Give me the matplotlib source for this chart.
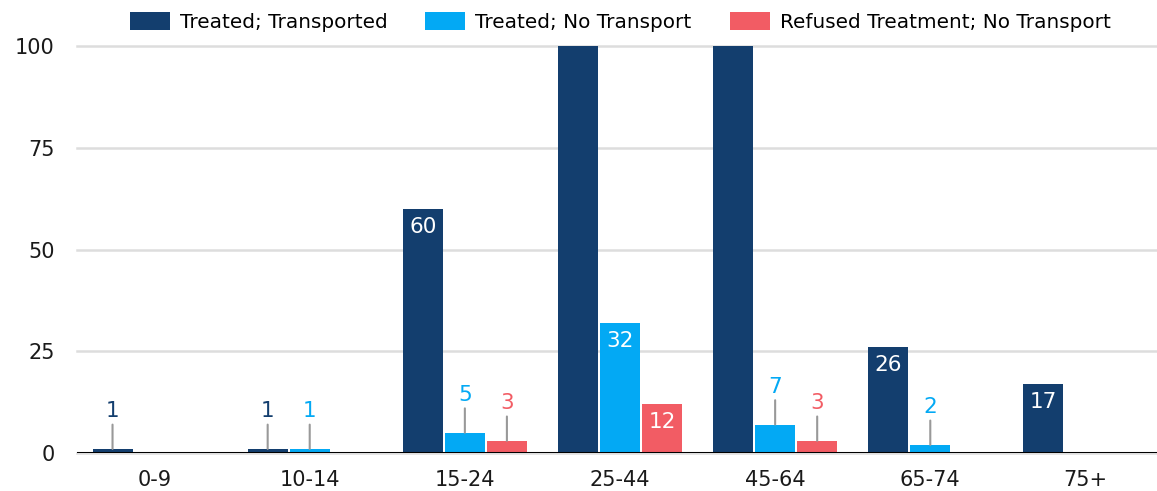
import numpy as np
import matplotlib
matplotlib.use("Agg")
import matplotlib.pyplot as plt

plt.rcParams['font.family'] = ['DejaVu Sans']

age_groups = ["0-9", "10-14", "15-24", "25-44", "45-64", "65-74", "75+"]
series_names = ["Treated; Transported", "Treated; No Transport", "Refused Treatment; No Transport"]
# the two tallest bars run past the top of the axis in the reference, true height unknown
treated_transported = [1, 1, 60, 140, 125, 26, 17]
treated_no_transport = [0, 1, 5, 32, 7, 2, 0]
refused_no_transport = [0, 0, 3, 12, 3, 0, 0]
colors = ["#133e6e", "#03a9f4", "#f25c64"]
y_ticks = [0, 25, 50, 75, 100]


def label_bar(ax, x, v, color):
    if v <= 0 or v > 100:
        return
    if v >= 10:
        ax.annotate(str(v), xy=(x, v), xytext=(0, -13), textcoords='offset points',
                    ha='center', va='center', color='white', fontsize=15.5)
    else:
        ax.annotate('', xy=(x, v), xytext=(0, 17.5), textcoords='offset points',
                    arrowprops=dict(arrowstyle='-', color='#999999', lw=1.5,
                                    shrinkA=0, shrinkB=0))
        ax.annotate(str(v), xy=(x, v), xytext=(0, 27), textcoords='offset points',
                    ha='center', va='center', color=color, fontsize=15.5)


def main():
    fig = plt.figure(figsize=(11.57, 4.91), dpi=100)
    ax = fig.add_axes([77 / 1157, 38 / 491, 1086 / 1157, 407 / 491])

    x = np.arange(len(age_groups))
    width = 0.258
    step = 0.271
    data = [treated_transported, treated_no_transport, refused_no_transport]
    for i, vals in enumerate(data):
        xs = x + (i - 1) * step
        ax.bar(xs, vals, width=width, color=colors[i], label=series_names[i], zorder=2)
        for xi, v in zip(xs, vals):
            label_bar(ax, xi, v, colors[i])

    ax.set_ylim(0, 100)
    ax.set_xlim(-0.5, 6.5)
    ax.set_yticks(y_ticks)
    ax.set_xticks(x)
    ax.set_xticklabels(age_groups)
    ax.tick_params(axis='both', length=0, labelsize=15, colors='#1a1a1a')
    ax.tick_params(axis='y', pad=16)
    ax.tick_params(axis='x', pad=12)
    ax.grid(axis='y', color='#dddddd', lw=1.8, zorder=0)
    for gl in ax.get_ygridlines():
        gl.set_clip_on(False)
    ax.set_axisbelow(True)
    for s in ax.spines.values():
        s.set_visible(False)
    ax.axhline(0, color='black', lw=2.2, zorder=3)

    ax.legend(loc='lower center', bbox_to_anchor=(0.5, 1.0), ncol=3, frameon=False,
              fontsize=14.4, handlelength=2.0, handleheight=1.0, columnspacing=1.9,
              handletextpad=0.5, borderaxespad=0.3)

    fig.savefig("out.png", dpi=100)


if __name__ == '__main__':
    main()
